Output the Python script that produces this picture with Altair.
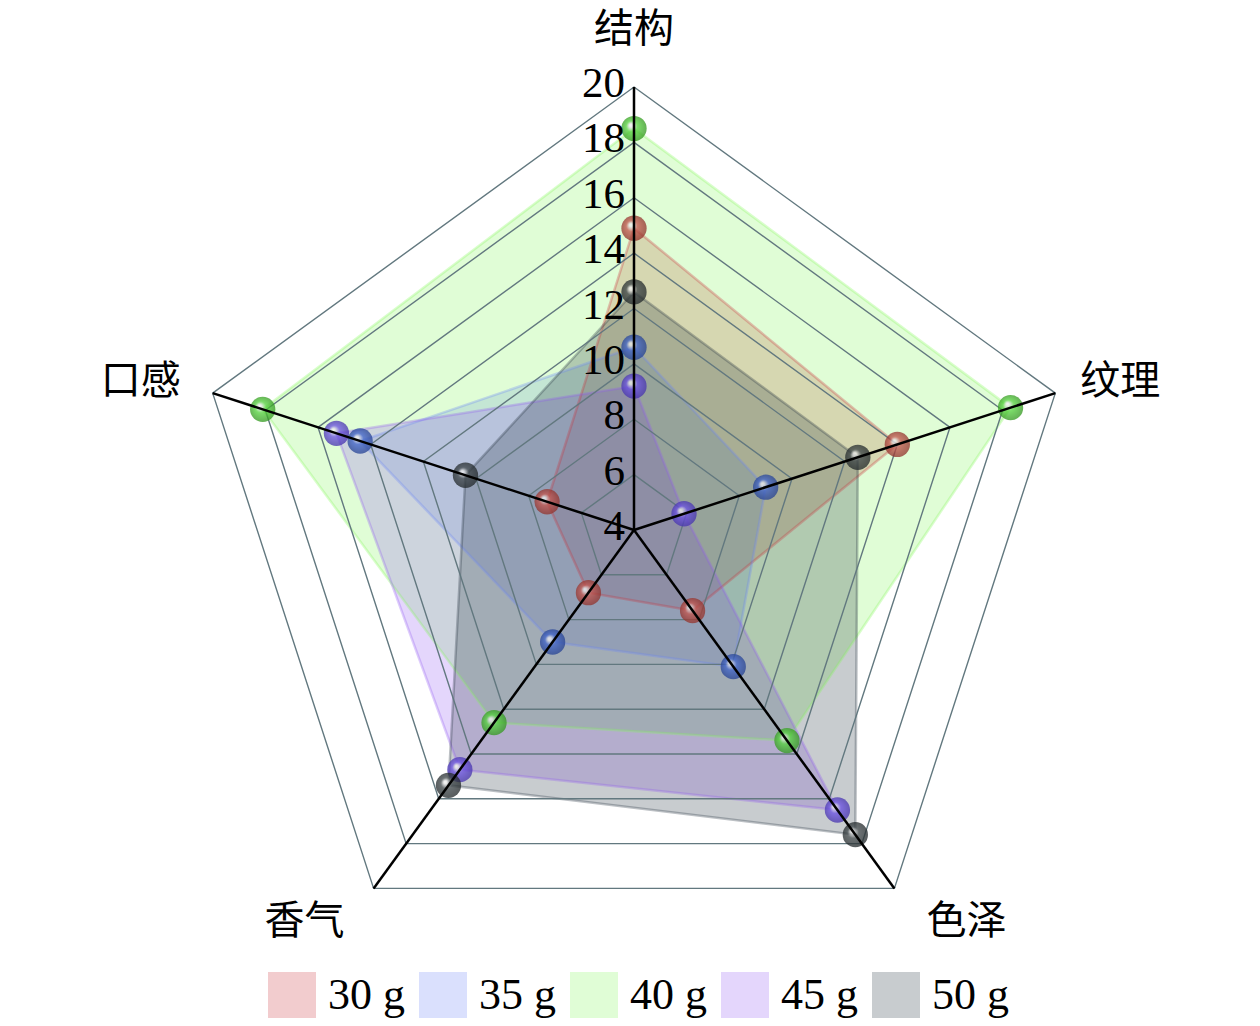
import altair as alt
import pandas as pd

# ---------------- data ----------------
categories = ["结构", "纹理", "色泽", "香气", "口感"]
series = ["30 g", "35 g", "40 g", "45 g", "50 g"]
v30 = [14.9, 14.0, 7.6, 6.8, 7.3]
v35 = [10.6, 9.0, 10.1, 9.0, 14.4]
v40 = [18.5, 18.3, 13.4, 12.6, 18.1]
v45 = [9.2, 5.9, 16.5, 14.7, 15.3]
v50 = [12.6, 12.5, 17.6, 15.4, 10.4]
all_values = [v30, v35, v40, v45, v50]
r_min, r_max = 4, 20
tick_values = [4, 6, 8, 10, 12, 14, 16, 18, 20]
grid_levels = [6, 8, 10, 12, 14, 16, 18, 20]

fill_colors = ["#cb333b", "#6b83f7", "#83f75b", "#935bf3", "#23333f"]
sphere_colors = ["#c2544c", "#3f63c8", "#52d23a", "#6a50e2", "#3c4447"]
sphere_dark = ["#8a2e28", "#233e8c", "#2f8f1c", "#4230a6", "#1e2426"]

# label offsets from the outer vertex (pixels), styling only
label_offsets = [(0, -57), (65, -11), (72, 34), (-69, 34), (-72, -11)]

# ---------------- tables ----------------
rows = []
for s, vals in zip(series, all_values):
    for i, (c, v) in enumerate(zip(categories, vals)):
        rows.append({"series": s, "cat": c, "idx": i, "value": v})
df = pd.DataFrame(rows)

grid_df = pd.DataFrame([{"level": lv, "idx": i, "value": lv}
                        for lv in grid_levels for i in range(len(categories))])
spoke_df = pd.DataFrame([{"idx": i, "value": r_max} for i in range(len(categories))])
tick_df = pd.DataFrame({"value": tick_values, "label": [str(t) for t in tick_values]})
cat_df = pd.DataFrame({"cat": categories, "idx": list(range(len(categories))),
                       "value": [r_max] * len(categories)})

N = len(categories)
px = 443 / (r_max - r_min)
W, H = 1244, 1010
cx, cy = 626, 522
xdom = [-cx / px, (W - cx) / px]
ydom = [-(H - cy) / px, cy / px]
xs = alt.Scale(domain=xdom, nice=False, zero=False)
ys = alt.Scale(domain=ydom, nice=False, zero=False)

xexpr = f"(datum.value - {r_min}) * sin(datum.idx * 2 * PI / {N})"
yexpr = f"(datum.value - {r_min}) * cos(datum.idx * 2 * PI / {N})"


def polar(chart):
    return chart.transform_calculate(px_=xexpr, py_=yexpr)


X = alt.X("px_:Q", scale=xs, axis=None)
Y = alt.Y("py_:Q", scale=ys, axis=None)

fill_scale = alt.Scale(domain=series, range=fill_colors)

fills = polar(alt.Chart(df)).mark_line(
    interpolate="linear-closed", fillOpacity=0.25, strokeWidth=0, strokeOpacity=0
).encode(
    x=X, y=Y, order=alt.Order("idx:Q"),
    fill=alt.Fill("series:N", scale=fill_scale, title=None,
                  legend=alt.Legend(orient="none", direction="horizontal", columns=5,
                                    legendX=260, legendY=964, symbolType="square",
                                    symbolSize=2304, symbolStrokeWidth=0,
                                    symbolOpacity=0.25,
                                    labelFont="Liberation Serif", labelFontSize=44,
                                    labelColor="black", labelOffset=12,
                                    columnPadding=14, padding=0)),
    detail="series:N",
)

outlines = polar(alt.Chart(df)).mark_line(
    interpolate="linear-closed", strokeWidth=2.5, strokeOpacity=0.3
).encode(
    x=X, y=Y, order=alt.Order("idx:Q"),
    stroke=alt.Stroke("series:N", scale=fill_scale, legend=None),
    detail="series:N",
)

grid = polar(alt.Chart(grid_df)).mark_line(
    interpolate="linear-closed", color="#62787f", strokeWidth=1.4
).encode(x=X, y=Y, order=alt.Order("idx:Q"), detail="level:Q")

spheres = []
for s, c, d in zip(series, sphere_colors, sphere_dark):
    grad = alt.RadialGradient(
        gradient="radial",
        stops=[alt.GradientStop(offset=0, color="#f4f4f4"),
               alt.GradientStop(offset=0.12, color="#e8e8e8"),
               alt.GradientStop(offset=0.4, color=c),
               alt.GradientStop(offset=1, color=d)],
        x1=0.36, y1=0.36, r1=0, x2=0.5, y2=0.5, r2=0.55,
    )
    spheres.append(
        polar(alt.Chart(df).transform_filter(alt.datum.series == s)).mark_circle(
            fill=grad, size=640, opacity=0.76
        ).encode(x=X, y=Y)
    )

spokes = alt.Chart(spoke_df).transform_calculate(
    px_=xexpr, py_=yexpr, zx="0", zy="0"
).mark_rule(color="black", strokeWidth=2.5).encode(
    x=alt.X("zx:Q", scale=xs, axis=None), y=alt.Y("zy:Q", scale=ys, axis=None),
    x2="px_:Q", y2="py_:Q",
)

ticks = alt.Chart(tick_df).transform_calculate(
    px_="0", py_=f"datum.value - {r_min}"
).mark_text(
    align="right", baseline="alphabetic", dx=-9, dy=10,
    font="Liberation Serif", fontSize=43, color="black"
).encode(x=X, y=Y, text="label:N")

cats = []
for c, (ox, oy) in zip(categories, label_offsets):
    cats.append(
        polar(alt.Chart(cat_df).transform_filter(alt.datum.cat == c)).mark_text(
            align="center", baseline="middle", font="Noto Sans CJK SC",
            fontSize=40, color="black", dx=ox, dy=oy
        ).encode(x=X, y=Y, text="cat:N")
    )

chart = alt.layer(fills, outlines, grid, *spheres, spokes, ticks, *cats).properties(
    width=W, height=H, padding=0,
    autosize=alt.AutoSizeParams(type="none"),
).configure_view(stroke=None)

chart.save("out.html", embed_options={"renderer": "svg", "actions": False})
